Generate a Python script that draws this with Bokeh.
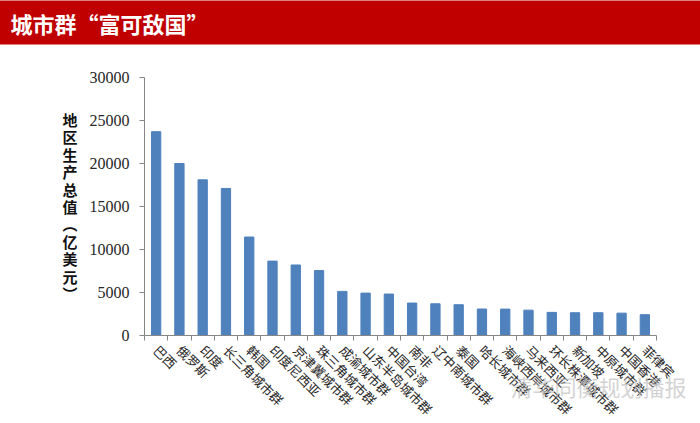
import math
from bokeh.plotting import figure
from bokeh.models import Range1d, FixedTicker, LinearAxis, ColumnDataSource
from bokeh.embed import file_html
from bokeh.resources import INLINE

title_text = "城市群“富可敌国”"
categories = ["巴西", "俄罗斯", "印度", "长三角城市群", "韩国", "印度尼西亚",
              "京津冀城市群", "珠三角城市群", "成渝城市群", "山东半岛城市群",
              "中国台湾", "南非", "辽中南城市群", "泰国", "哈长城市群",
              "海峡西岸城市群", "马来西亚", "环长株潭城市群", "新加坡",
              "中原城市群", "中国香港", "菲律宾"]
gdp = [23700, 20000, 18100, 17100, 11450, 8650, 8200, 7550, 5130, 4930,
       4820, 3770, 3690, 3580, 3080, 3070, 2950, 2690, 2650, 2650, 2600, 2420]
y_ticks = [0, 5000, 10000, 15000, 20000, 25000, 30000]
y_label_chars = ["地", "区", "生", "产", "总", "值", "︵", "亿", "美", "元", "︶"]
watermark = "清华同衡规划播报"

CJK = "Noto Sans CJK SC"
ML, MT = 144, 77
FW, FH = 512, 258
W, H = 700, 423
n = len(categories)

xs = [i + 0.5 for i in range(n)]
src = ColumnDataSource(dict(x=xs, top=gdp, name=categories))

p = figure(frame_width=FW, frame_height=FH,
           x_range=Range1d(0, n), y_range=Range1d(0, 30000),
           toolbar_location=None, output_backend="svg",
           x_axis_type=None, y_axis_type=None,
           min_border_left=ML, min_border_right=W - ML - FW,
           min_border_top=MT, min_border_bottom=H - MT - FH)
p.grid.visible = False
p.outline_line_color = None
p.background_fill_color = "white"
p.border_fill_color = "white"

p.vbar(x="x", top="top", width=0.4, source=src, color="#4F81BD")

# title banner
p.title.text = title_text
p.title.align = "left"
p.title.vertical_align = "top"
p.title.offset = -30 - ML
p.title.text_font = CJK
p.title.text_font_size = "22px"
p.title.text_font_style = "bold"
p.title.text_color = "white"
p.title.background_fill_color = "#C00000"
p.title.border_line_color = None
p.title.padding = dict(left=40, right=760, top=6, bottom=6)
p.title.standoff = 0

# invisible spacer axis between the banner and the plot area
spacer = LinearAxis(ticker=FixedTicker(ticks=[], minor_ticks=[]))
spacer.axis_line_color = None
spacer.major_tick_line_color = None
spacer.minor_tick_line_color = None
spacer.major_tick_out = 0
spacer.major_tick_in = 0
spacer.minor_tick_out = 0
spacer.major_label_standoff = 0
spacer.axis_label = "\u3000"
spacer.axis_label_text_font = CJK
spacer.axis_label_text_font_size = "16px"
spacer.axis_label_text_color = "white"
spacer.axis_label_standoff = 4
p.add_layout(spacer, "above")

yaxis = LinearAxis(ticker=FixedTicker(ticks=y_ticks, minor_ticks=[]))
yaxis.axis_line_color = "#868686"
yaxis.major_tick_line_color = "#868686"
yaxis.major_tick_out = 5
yaxis.major_tick_in = 0
yaxis.minor_tick_line_color = None
yaxis.major_label_text_font = "Liberation Serif"
yaxis.major_label_text_font_size = "16px"
yaxis.major_label_text_color = "#262626"
yaxis.major_label_standoff = 10
yaxis.axis_label = "\n".join(y_label_chars)
yaxis.axis_label_orientation = "horizontal"
yaxis.axis_label_text_font = CJK
yaxis.axis_label_text_font_size = "15px"
yaxis.axis_label_text_font_style = "bold"
yaxis.axis_label_text_color = "#111111"
yaxis.axis_label_text_line_height = 0.83
yaxis.axis_label_standoff = 9
p.add_layout(yaxis, "left")

xaxis = LinearAxis(ticker=FixedTicker(ticks=xs, minor_ticks=list(range(n + 1))))
xaxis.major_label_overrides = {x: c for x, c in zip(xs, categories)}
xaxis.axis_line_color = "#868686"
xaxis.major_tick_line_color = None
xaxis.minor_tick_line_color = "#868686"
xaxis.minor_tick_out = 5
xaxis.minor_tick_in = 0
xaxis.major_label_orientation = -math.pi / 4
xaxis.major_label_text_font = CJK
xaxis.major_label_text_font_size = "13px"
xaxis.major_label_text_color = "#262626"
xaxis.major_label_standoff = 6
xaxis.axis_label = "\u3000" * 18 + watermark
xaxis.axis_label_align = "center"
xaxis.axis_label_text_font = CJK
xaxis.axis_label_text_font_size = "22px"
xaxis.axis_label_text_font_style = "normal"
xaxis.axis_label_text_color = "#c0c0c0"
xaxis.axis_label_text_alpha = 0.7
xaxis.axis_label_standoff = -58
p.add_layout(xaxis, "below")

open("out.html", "w").write(file_html(p, INLINE))
